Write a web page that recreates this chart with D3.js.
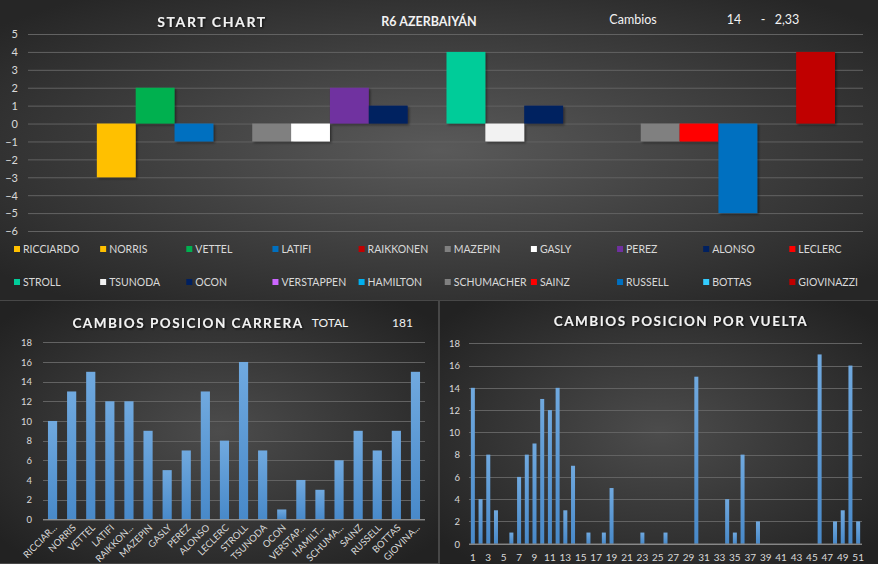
<!DOCTYPE html>
<html>
<head>
<meta charset="utf-8">
<script src="https://cdn.jsdelivr.net/npm/d3@7"></script>
<style>
html,body{margin:0;padding:0;background:#474747;overflow:hidden;}
svg{display:block;}
text{font-family:Lato,"Liberation Sans",sans-serif;}
</style>
</head>
<body>
<svg id="chart" width="878" height="564"></svg>
<script>
// ---------- DATA ----------
const drivers = ["RICCIARDO","NORRIS","VETTEL","LATIFI","RAIKKONEN","MAZEPIN","GASLY","PEREZ","ALONSO","LECLERC",
                 "STROLL","TSUNODA","OCON","VERSTAPPEN","HAMILTON","SCHUMACHER","SAINZ","RUSSELL","BOTTAS","GIOVINAZZI"];
const startChanges = [0,-3,2,-1,0,-1,-1,2,1,0,4,-1,1,0,0,-1,-1,-5,0,4];
const driverColors = ["#FFC000","#FFC000","#00B050","#0070C0","#C00000","#808080","#FFFFFF","#7030A0","#002060","#FF0000",
                      "#00CC99","#F2F2F2","#002060","#CC66FF","#00B0F0","#808080","#FF0000","#0070C0","#33CCFF","#C00000"];
const startTicks = [5,4,3,2,1,0,-1,-2,-3,-4,-5,-6];

const raceLabels = ["RICCIAR...","NORRIS","VETTEL","LATIFI","RAIKKON...","MAZEPIN","GASLY","PEREZ","ALONSO","LECLERC",
                    "STROLL","TSUNODA","OCON","VERSTAP...","HAMILT...","SCHUMA...","SAINZ","RUSSELL","BOTTAS","GIOVINA..."];
const raceChanges = [10,13,15,12,12,9,5,7,13,8,16,7,1,4,3,6,9,7,9,15];
const countTicks = [0,2,4,6,8,10,12,14,16,18];

const laps = [1,2,3,4,5,6,7,8,9,10,11,12,13,14,15,16,17,18,19,20,21,22,23,24,25,26,27,28,29,30,
              31,32,33,34,35,36,37,38,39,40,41,42,43,44,45,46,47,48,49,50,51];
const lapChanges = [14,4,8,3,0,1,6,8,9,13,12,14,3,7,0,1,0,1,5,0,0,0,1,0,0,1,0,0,0,15,
                    0,0,0,4,1,8,0,2,0,0,0,0,0,0,0,17,0,2,3,16,2];
const lapTickLabels = [1,3,5,7,9,11,13,15,17,19,21,23,25,27,29,31,33,35,37,39,41,43,45,47,49,51];

const headerTitle = "START CHART";
const raceName = "R6 AZERBAIYÁN";
const cambiosLabel = "Cambios";
const cambiosValue = "14";
const cambiosRatio = "2,33";
const totalLabel = "TOTAL";
const totalValue = "181";

// ---------- DRAW ----------
const svg = d3.select("#chart");
const defs = svg.append("defs");

function radial(id, c0, c1){
  const g = defs.append("radialGradient").attr("id", id).attr("cx","50%").attr("cy","50%").attr("r","65%");
  g.append("stop").attr("offset","0%").attr("stop-color", c0);
  g.append("stop").attr("offset","100%").attr("stop-color", c1);
}
radial("bgTop", "#5a5a5a", "#262626");
radial("bgBot", "#4c4c4c", "#222222");

const barGrad = defs.append("linearGradient").attr("id","barGrad").attr("x1",0).attr("y1",0).attr("x2",0).attr("y2",1);
barGrad.append("stop").attr("offset","0%").attr("stop-color","#70a9df");
barGrad.append("stop").attr("offset","100%").attr("stop-color","#4889c9");

const shadow = defs.append("filter").attr("id","shadow").attr("x","-20%").attr("y","-20%").attr("width","150%").attr("height","150%");
shadow.append("feDropShadow").attr("dx",1.5).attr("dy",1.5).attr("stdDeviation",1.2).attr("flood-color","#000").attr("flood-opacity",0.45);
const tshadow = defs.append("filter").attr("id","tshadow").attr("x","-10%").attr("y","-50%").attr("width","120%").attr("height","200%");
tshadow.append("feDropShadow").attr("dx",1).attr("dy",1).attr("stdDeviation",0.8).attr("flood-color","#000").attr("flood-opacity",0.8);

// panels
svg.append("rect").attr("x",0).attr("y",0).attr("width",878).attr("height",300).attr("fill","url(#bgTop)");
svg.append("rect").attr("x",0).attr("y",301).attr("width",438).attr("height",262).attr("fill","url(#bgBot)");
svg.append("rect").attr("x",440).attr("y",301).attr("width",438).attr("height",263).attr("fill","url(#bgBot)");

const labelColor = "#d9d9d9";
const gridColor = "#626262";

// ===== TOP CHART =====
const yTop = d3.scaleLinear().domain([-6,5]).range([231,34]);
const xTop = d3.scaleBand().domain(drivers).range([58,835]).padding(0);

const gTop = svg.append("g");
gTop.append("g").selectAll("line").data(startTicks).join("line")
  .attr("x1",28).attr("x2",863).attr("y1",d=>yTop(d)+0.5).attr("y2",d=>yTop(d)+0.5)
  .attr("stroke", gridColor).attr("stroke-width",1);

const yAxisTop = d3.axisLeft(yTop).tickValues(startTicks).tickSize(0).tickPadding(0).tickFormat(d3.format("d"));
gTop.append("g").attr("transform","translate(18,0)").call(yAxisTop)
  .call(g=>g.select(".domain").remove())
  .call(g=>g.selectAll("text").attr("fill",labelColor).style("font-size","11px").attr("dy","0.35em"));

gTop.append("g").selectAll("rect").data(drivers.map((d,i)=>({d, v:startChanges[i], c:driverColors[i]})).filter(o=>o.v!==0))
  .join("rect")
  .attr("x", o=>xTop(o.d)).attr("width", xTop.bandwidth())
  .attr("y", o=>yTop(Math.max(0,o.v))).attr("height", o=>Math.abs(yTop(o.v)-yTop(0)))
  .attr("fill", o=>o.c).attr("filter","url(#shadow)");

// titles top
svg.append("text").attr("x",212).attr("y",27).attr("text-anchor","middle")
  .attr("fill","#f2f2f2").style("font-size","14px").style("font-weight","bold").style("letter-spacing","1.6px")
  .attr("filter","url(#tshadow)").text(headerTitle);
svg.append("text").attr("x",429).attr("y",26).attr("text-anchor","middle")
  .attr("fill","#f2f2f2").style("font-size","12.5px").style("font-weight","bold").text(raceName);
svg.append("text").attr("x",633).attr("y",24).attr("text-anchor","middle")
  .attr("fill","#f2f2f2").style("font-size","12.5px").text(cambiosLabel);
svg.append("text").attr("x",734).attr("y",24).attr("text-anchor","middle")
  .attr("fill","#f2f2f2").style("font-size","12.5px").text(cambiosValue);
svg.append("text").attr("x",763).attr("y",24).attr("text-anchor","middle")
  .attr("fill","#f2f2f2").style("font-size","12.5px").text("-");
svg.append("text").attr("x",787).attr("y",24).attr("text-anchor","middle")
  .attr("fill","#f2f2f2").style("font-size","12.5px").text(cambiosRatio);

// legend
const legend = svg.append("g");
const legItems = legend.selectAll("g").data(drivers).join("g")
  .attr("transform",(d,i)=>`translate(${14 + (i%10)*86.15},${i<10?249:282})`);
legItems.append("rect").attr("x",0).attr("y",-3).attr("width",6).attr("height",6)
  .attr("fill",(d,i)=>driverColors[i]);
legItems.append("text").attr("x",9).attr("y",0).attr("dy","0.36em")
  .attr("fill",labelColor).style("font-size","10.5px").text(d=>d);

// ===== BOTTOM LEFT =====
const yL = d3.scaleLinear().domain([0,18]).range([519.3,342.3]);
const xL = d3.scaleBand().domain(raceLabels).range([43,425]).paddingInner(0.52).paddingOuter(0.26);
const gL = svg.append("g");
gL.append("g").selectAll("line").data(countTicks.filter(d=>d>0)).join("line")
  .attr("x1",43).attr("x2",425).attr("y1",d=>Math.round(yL(d))+0.5).attr("y2",d=>Math.round(yL(d))+0.5)
  .attr("stroke",gridColor);
gL.append("g").attr("transform","translate(32,0)")
  .call(d3.axisLeft(yL).tickValues(countTicks).tickSize(0).tickPadding(0))
  .call(g=>g.select(".domain").remove())
  .call(g=>g.selectAll("text").attr("fill",labelColor).style("font-size","9.5px").attr("dy","0.35em"));
gL.append("g").selectAll("rect").data(raceChanges).join("rect")
  .attr("x",(d,i)=>xL(raceLabels[i])).attr("width",xL.bandwidth())
  .attr("y",d=>yL(d)).attr("height",d=>yL(0)-yL(d)).attr("fill","url(#barGrad)");
gL.append("line").attr("x1",43).attr("x2",425).attr("y1",yL(0)+0.5).attr("y2",yL(0)+0.5)
  .attr("stroke","#b0b0b0");
gL.append("g").attr("transform",`translate(0,${yL(0)})`)
  .call(d3.axisBottom(xL).tickSize(0).tickPadding(0))
  .call(g=>g.select(".domain").remove())
  .call(g=>g.selectAll(".tick text").attr("fill",labelColor).style("font-size","9.5px")
     .attr("text-anchor","end").attr("dy","0").attr("y",0)
     .attr("transform","translate(5,9) rotate(-45)"));
svg.append("text").attr("x",188).attr("y",328).attr("text-anchor","middle")
  .attr("fill","#f2f2f2").style("font-size","13.5px").style("font-weight","bold").style("letter-spacing","1.5px")
  .attr("filter","url(#tshadow)").text("CAMBIOS POSICION CARRERA");
svg.append("text").attr("x",330).attr("y",327).attr("text-anchor","middle")
  .attr("fill","#f2f2f2").style("font-size","12px").text(totalLabel);
svg.append("text").attr("x",402.5).attr("y",327).attr("text-anchor","middle")
  .attr("fill","#f2f2f2").style("font-size","12px").text(totalValue);

// ===== BOTTOM RIGHT =====
const yR = d3.scaleLinear().domain([0,18]).range([543.7,343.3]);
const xR = d3.scaleBand().domain(laps).range([469,862]).paddingInner(0.48).paddingOuter(0.24);
const gR = svg.append("g");
gR.append("g").selectAll("line").data(countTicks.filter(d=>d>0)).join("line")
  .attr("x1",469).attr("x2",862).attr("y1",d=>Math.round(yR(d))+0.5).attr("y2",d=>Math.round(yR(d))+0.5)
  .attr("stroke",gridColor);
gR.append("g").attr("transform","translate(460,0)")
  .call(d3.axisLeft(yR).tickValues(countTicks).tickSize(0).tickPadding(0))
  .call(g=>g.select(".domain").remove())
  .call(g=>g.selectAll("text").attr("fill",labelColor).style("font-size","9.5px").attr("dy","0.35em"));
gR.append("g").selectAll("rect").data(lapChanges).join("rect")
  .attr("x",(d,i)=>xR(laps[i])).attr("width",xR.bandwidth())
  .attr("y",d=>yR(d)).attr("height",d=>yR(0)-yR(d)).attr("fill","url(#barGrad)");
gR.append("line").attr("x1",469).attr("x2",862).attr("y1",yR(0)+0.5).attr("y2",yR(0)+0.5)
  .attr("stroke","#b0b0b0");
gR.append("g").attr("transform",`translate(0,${yR(0)})`)
  .call(d3.axisBottom(xR).tickValues(lapTickLabels).tickSize(0).tickPadding(0))
  .call(g=>g.select(".domain").remove())
  .call(g=>g.selectAll(".tick text").attr("fill",labelColor).style("font-size","10px").attr("y",14).attr("dy","0.35em"));
svg.append("text").attr("x",681).attr("y",326).attr("text-anchor","middle")
  .attr("fill","#f2f2f2").style("font-size","13.5px").style("font-weight","bold").style("letter-spacing","1.5px")
  .attr("filter","url(#tshadow)").text("CAMBIOS POSICION POR VUELTA");
</script>
</body>
</html>
